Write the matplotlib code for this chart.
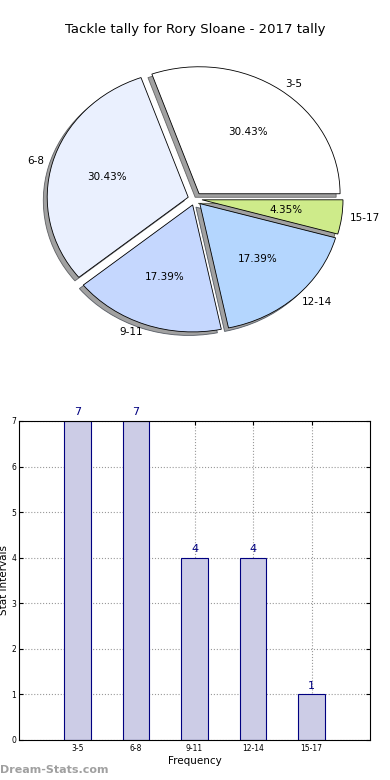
import numpy as np
import matplotlib
matplotlib.use('Agg')
from matplotlib import pyplot as plt
from matplotlib.patches import Shadow

# --- Data ---
intervals = ['3-5', '6-8', '9-11', '12-14', '15-17']
counts = [7, 7, 4, 4, 1]
pie_colors = ['#FFFFFF', '#EAF0FE', '#C5D7FE', '#B4D6FE', '#CEEB8A']
title = 'Tackle tally for Rory Sloane - 2017 tally'

plt.rcParams['font.family'] = 'DejaVu Sans'

fig = plt.figure(figsize=(3.9, 7.8), dpi=100)
fig.patch.set_facecolor('white')

# --- Pie (old style, not forced round) ---
ax1 = fig.add_axes([0.03, 0.5333, 0.94, 0.4233])
wedges, texts, autotexts = ax1.pie(
    counts, labels=intervals, colors=pie_colors, explode=[0.05] * len(counts),
    autopct='%1.2f%%', shadow=True, startangle=0, counterclock=True,
    labeldistance=1.06, pctdistance=0.6,
    wedgeprops={'edgecolor': 'black', 'linewidth': 0.6},
    textprops={'fontsize': 7.5})
for p in ax1.patches:
    if isinstance(p, Shadow):
        p.set_facecolor('#8A8A8A')
        p.set_alpha(0.8)
ax1.set_aspect('auto')
ax1.set_xlim(-1.3, 1.3)
ax1.set_ylim(-1.3, 1.3)
ax1.axis('off')

fig.text(0.5, 1 - 30 / 780, title, ha='center', va='center', fontsize=9.5)

# --- Bars ---
ax2 = fig.add_axes([0.0487, 0.0513, 0.9003, 0.409])
x = np.arange(1, len(counts) + 1)
ax2.bar(x, counts, width=0.45, color='#CCCCE6', edgecolor='#000080', linewidth=0.8, zorder=2)
for xi, c in zip(x, counts):
    ax2.text(xi, c + 0.08, str(c), ha='center', va='bottom', color='#000080', fontsize=8)
ax2.set_xlim(0, 6)
ax2.set_ylim(0, 7)
ax2.set_xticks(x)
ax2.set_xticklabels(intervals, fontsize=5.5)
ax2.set_yticks(range(0, 8))
ax2.tick_params(axis='y', labelsize=5.5, direction='in', length=3, right=True, pad=2)
ax2.tick_params(axis='x', direction='in', length=3, top=True, pad=3)
ax2.grid(True, linestyle=':', color='#999999', linewidth=0.8, zorder=0)
ax2.set_axisbelow(True)
ax2.set_xlabel('Frequency', fontsize=7.5, labelpad=2)

fig.text(4 / 390, 1 - 580 / 780, 'Stat Intervals', rotation=90, ha='center', va='center', fontsize=7.5)
fig.text(0, 1 - 770 / 780, 'Dream-Stats.com', ha='left', va='center', fontsize=8,
         color='#A0A0A0', fontweight='bold')

fig.savefig('out.png', dpi=100)
